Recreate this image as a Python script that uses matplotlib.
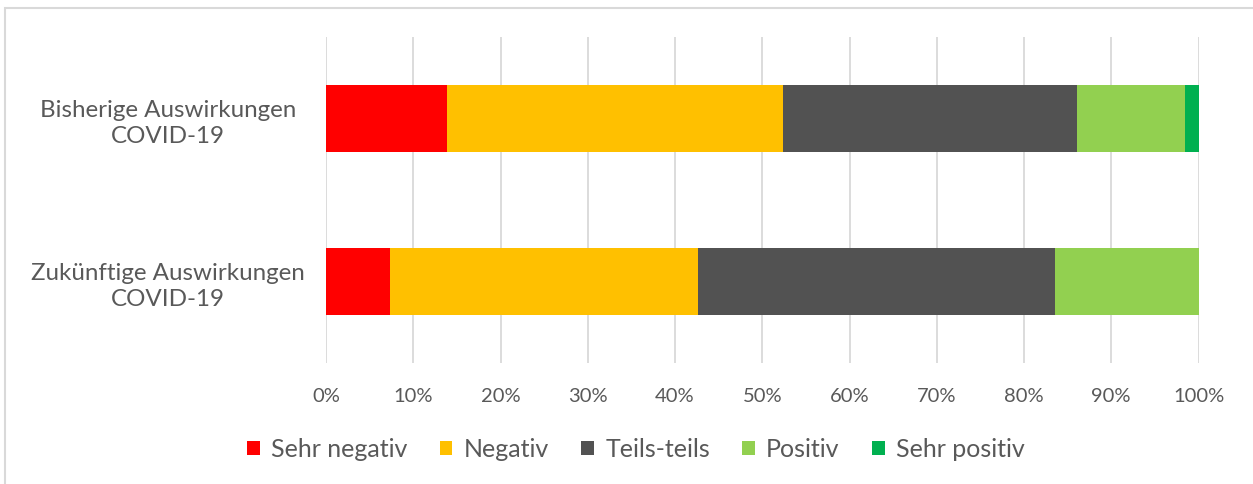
import numpy as np
import matplotlib.pyplot as plt
from matplotlib.patches import Rectangle

plt.rcParams['font.family'] = ['Lato', 'DejaVu Sans']

categories = ['Bisherige Auswirkungen\nCOVID-19', 'Zukünftige Auswirkungen\nCOVID-19']
series = ['Sehr negativ', 'Negativ', 'Teils-teils', 'Positiv', 'Sehr positiv']
sehr_negativ = [13.9, 7.3]
negativ = [38.5, 35.3]
teils_teils = [33.7, 41.0]
positiv = [12.3, 16.4]
sehr_positiv = [1.6, 0.0]
colors = ['#ff0000', '#ffc000', '#525252', '#92d050', '#00b050']

txtcol = '#595959'

fig = plt.figure(figsize=(12.53, 4.85), dpi=100)
# chart border (light grey), partly cut off like the reference
fig.patches.append(Rectangle((5/1253, -0.1), 1.2, 1 - 9/485 + 0.1, transform=fig.transFigure,
                             fill=False, edgecolor='#d9d9d9', linewidth=1.5, zorder=0))

ax = fig.add_axes([326/1253, 1 - 364/485, 872.5/1253, 326/485])

values = [sehr_negativ, negativ, teils_teils, positiv, sehr_positiv]
y = np.arange(len(categories))
left = np.zeros(len(categories))
for name, vals, c in zip(series, values, colors):
    vals = np.array(vals)
    ax.barh(y, vals, left=left, height=0.405, color=c, label=name, zorder=3)
    left += vals

ax.set_ylim(1.5, -0.5)
ax.set_xlim(0, 100)
ax.set_xticks(np.arange(0, 101, 10))
ax.set_xticklabels(['%d%%' % v for v in range(0, 101, 10)])
ax.set_yticks(y)
ax.set_yticklabels(categories, ha='center', multialignment='center', linespacing=1.25)
ax.tick_params(axis='y', length=0, pad=113.5, labelsize=17.4, labelcolor=txtcol)
ax.tick_params(axis='x', length=0, pad=17, labelsize=14.5, labelcolor=txtcol)
ax.grid(axis='x', color='#d9d9d9', linewidth=1.3, zorder=0)
for s in ax.spines.values():
    s.set_visible(False)

fig.legend(loc='center', bbox_to_anchor=(636/1253, 1 - 450/485), ncol=5, frameon=False,
           fontsize=18, labelcolor=txtcol, handlelength=0.5, handleheight=0.5,
           handletextpad=0.45, columnspacing=1.3)

plt.savefig('out.png', dpi=100)
